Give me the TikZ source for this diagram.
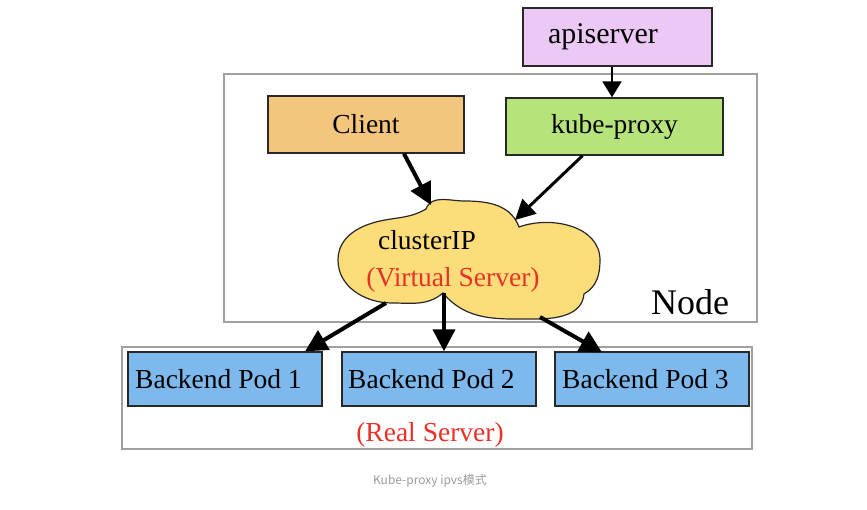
\documentclass[tikz,border=0pt]{standalone}
\usepackage{fontspec}
\setmainfont{Liberation Serif}
\newfontfamily\cjkfont{Noto Sans CJK SC}
\usetikzlibrary{arrows.meta}
\definecolor{apicol}{RGB}{236,200,244}
\definecolor{clientcol}{RGB}{243,198,125}
\definecolor{proxycol}{RGB}{182,228,123}
\definecolor{cloudcol}{RGB}{253,220,122}
\definecolor{podcol}{RGB}{125,185,236}
\definecolor{redtext}{RGB}{232,50,40}
\definecolor{framecol}{RGB}{160,160,160}
\definecolor{boxline}{RGB}{40,40,40}
\definecolor{captioncol}{RGB}{155,155,155}
\tikzset{
  bigtext/.style={font=\fontsize{27.5}{31}\selectfont},
  compbox/.style={draw=boxline, line width=1.4pt, inner sep=0pt, bigtext},
  podbox/.style={compbox, fill=podcol, minimum width=194pt, minimum height=54pt},
  framebox/.style={draw=framecol, line width=1.2pt},
  fatarrow/.style={line width=4pt, -{Triangle[length=22pt,width=22pt]}},
  thinarrow/.style={line width=2pt, -{Triangle[length=16pt,width=19pt]}},
}
\begin{document}
\begin{tikzpicture}[x=1pt,y=-1pt]
\useasboundingbox (0,0) rectangle (867,509);
% frames
\draw[framebox] (224,74) rectangle (757,322);
\draw[framebox] (122,347) rectangle (752,449);
\node[font=\fontsize{36}{40}\selectfont] (nodelbl) at (690,302) {Node};
\node[bigtext, text=redtext] (realsrv) at (430,435) {(Real Server)};
% boxes
\node[compbox, fill=apicol, minimum width=189pt, minimum height=58pt] (api) at (617.5,37) {};
\node[font=\fontsize{30}{34}\selectfont] (apit) at (603,37) {apiserver};
\node[compbox, fill=clientcol, minimum width=196pt, minimum height=57pt] (client) at (366,124.5) {Client};
\node[compbox, fill=proxycol, minimum width=217pt, minimum height=57pt] (proxy) at (614.5,126.5) {kube-proxy};
\node[podbox] (pod1) at (225,379) {};
\node[podbox] (pod2) at (439,379) {};
\node[podbox] (pod3) at (652,379) {};
\node[bigtext, anchor=west, inner sep=0pt] (pod1t) at (135,379) {Backend Pod 1};
\node[bigtext, anchor=west, inner sep=0pt] (pod2t) at (348,379) {Backend Pod 2};
\node[bigtext, anchor=west, inner sep=0pt] (pod3t) at (562,379) {Backend Pod 3};
% cloud
\draw[fill=cloudcol, draw=boxline, line width=1.2pt]
  (426,209) to[out=70,in=180] (465,201) to[out=0,in=110] (519,227)
  to[out=20,in=90] (600,260) to[out=-90,in=30] (584,294)
  to[out=-95,in=0] (535,319) to[out=180,in=-50] (443,293)
  to[out=-140,in=0] (392,303) to[out=180,in=-90] (338,260)
  to[out=90,in=190] (385,220) to[out=10,in=-150] (426,209) -- cycle;
\coordinate (cin1) at (431,205);
\coordinate (cin2) at (515,220);
\coordinate (cout1) at (386,303);
\coordinate (cout2) at (444,293);
\coordinate (cout3) at (540,317);
\node[bigtext] (cip) at (427,240) {clusterIP};
\node[bigtext, text=redtext] (vs) at (453,280) {(Virtual Server)};
% arrows
\draw[thinarrow] ([xshift=-5.5pt]api.south) -- ([xshift=-2.5pt]proxy.north);
\draw[fatarrow] ([xshift=38pt]client.south) -- (cin1);
\draw[line width=3pt, -{Triangle[length=20pt,width=20pt]}] ([xshift=-32pt]proxy.south) -- (cin2);
\draw[fatarrow] (cout1) -- ([xshift=80pt]pod1.north);
\draw[fatarrow] (cout2) -- ([xshift=5pt]pod2.north);
\draw[fatarrow] (cout3) -- ([xshift=-50pt,yshift=-1pt]pod3.north);
% caption
\node[text=captioncol, font=\cjkfont\fontsize{12}{14}\selectfont] (caption) at (430,481) {Kube-proxy ipvs模式};
\end{tikzpicture}
\end{document}
